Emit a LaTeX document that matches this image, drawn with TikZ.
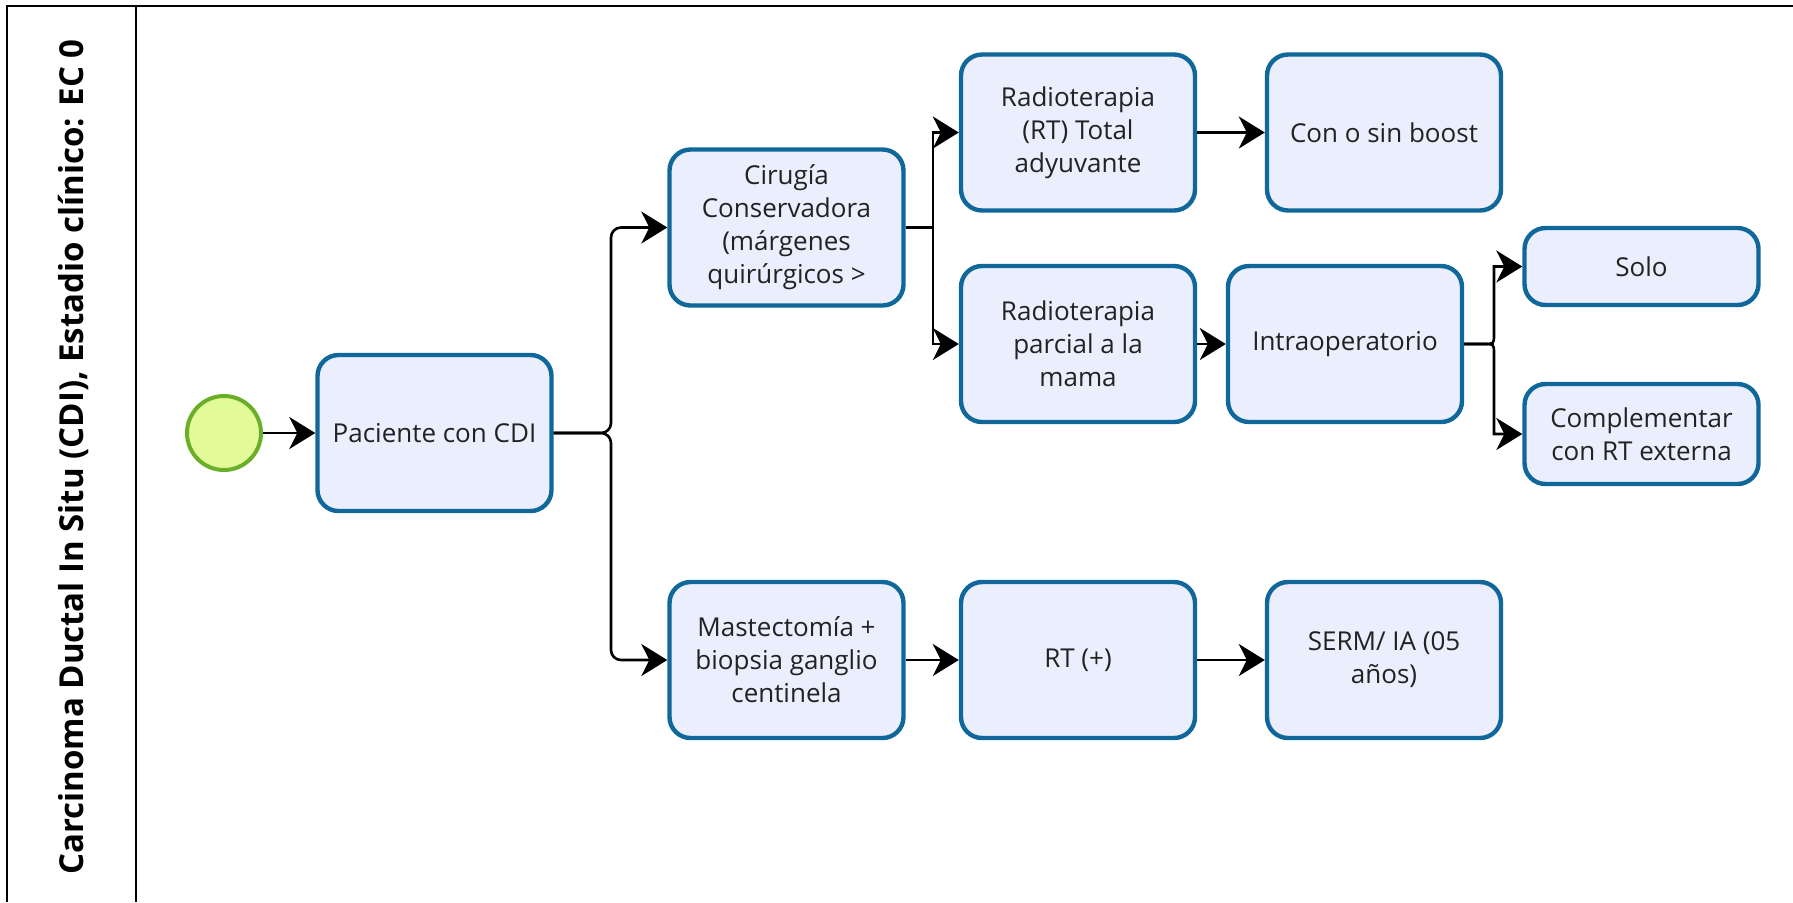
\documentclass[tikz,border=0pt]{standalone}
\usepackage{fontspec}
\setmainfont{Open Sans}
\usetikzlibrary{arrows.meta,calc}
\definecolor{boxline}{RGB}{16,104,154}
\definecolor{boxfill}{RGB}{234,238,253}
\definecolor{startfill}{RGB}{227,250,152}
\definecolor{startline}{RGB}{106,174,42}
\definecolor{txt}{RGB}{34,34,34}
\begin{document}
\begin{tikzpicture}[x=0.5pt,y=-0.5pt,
  task/.style={draw=boxline, fill=boxfill, line width=2.2pt, rounded corners=10.5pt,
    minimum width=117pt, minimum height=78pt, align=center, inner sep=2pt, text=txt,
    font=\fontsize{13pt}{16.5pt}\selectfont},
  smalltask/.style={task, minimum height=38.5pt},
  midtask/.style={task, minimum height=50pt},
  startev/.style={circle, draw=startline, fill=startfill, line width=2pt, minimum size=37pt, inner sep=0pt},
  conn/.style={draw=black, line width=1.3pt, -{Stealth[length=13pt,width=16pt,inset=4pt]}},
  frame/.style={draw=black, line width=1.3pt},
  lanetitle/.style={rotate=90, anchor=base, text=black, font=\bfseries\fontsize{16.5pt}{20pt}\selectfont}
]
\useasboundingbox (0,0) rectangle (1793,902);
% frame
\draw[frame] (7,902) -- (7,6) -- (1793,6);
\draw[frame] (136,6) -- (136,902);
\node[lanetitle] (title) at (83,457) {Carcinoma Ductal In Situ (CDI), Estadio clínico: EC 0};

% nodes
\node[startev] (start) at (224,433) {};
\node[task] (pac) at (434.5,433) {Paciente con CDI};
\node[task] (cir) at (786.5,227.5) {Cirugía\\Conservadora\\(márgenes\\quirúrgicos >};
\node[task] (rt1) at (1078,132.5) {Radioterapia\\(RT) Total\\adyuvante};
\node[task] (boost) at (1384,132.5) {Con o sin boost};
\node[task] (rtp) at (1078,344) {Radioterapia\\parcial a la\\mama};
\node[task] (intra) at (1345,344) {Intraoperatorio};
\node[smalltask] (solo) at (1641.5,266.5) {Solo};
\node[midtask] (comp) at (1641.5,434) {Complementar\\con RT externa};
\node[task] (mast) at (786.5,660) {Mastectomía +\\biopsia ganglio\\centinela};
\node[task] (rtplus) at (1078,660) {RT (+)};
\node[task] (serm) at (1384,660) {SERM/ IA (05\\años)};

% junction points
\coordinate (j1) at (611,433);
\coordinate (j2) at (933,227.5);
\coordinate (j3) at (1494,344);

% connectors
\draw[conn] (start) -- (pac);
\draw[conn, rounded corners=5pt] (pac.east) -- (j1) |- (cir.west);
\draw[conn, rounded corners=5pt] (pac.east) -- (j1) |- (mast.west);
\draw[conn] (cir.east) -- (j2) |- (rt1.west);
\draw[conn] (cir.east) -- (j2) |- (rtp.west);
\draw[conn] (rt1) -- (boost);
\draw[conn] (rtp) -- (intra);
\draw[conn] (intra.east) -- ([xshift=-5pt]j3) .. controls (j3) .. ([yshift=5pt]j3) |- (solo.west);
\draw[conn] (intra.east) -- ([xshift=-5pt]j3) .. controls (j3) .. ([yshift=-5pt]j3) |- (comp.west);
\draw[conn] (mast) -- (rtplus);
\draw[conn] (rtplus) -- (serm);
\end{tikzpicture}
\end{document}
